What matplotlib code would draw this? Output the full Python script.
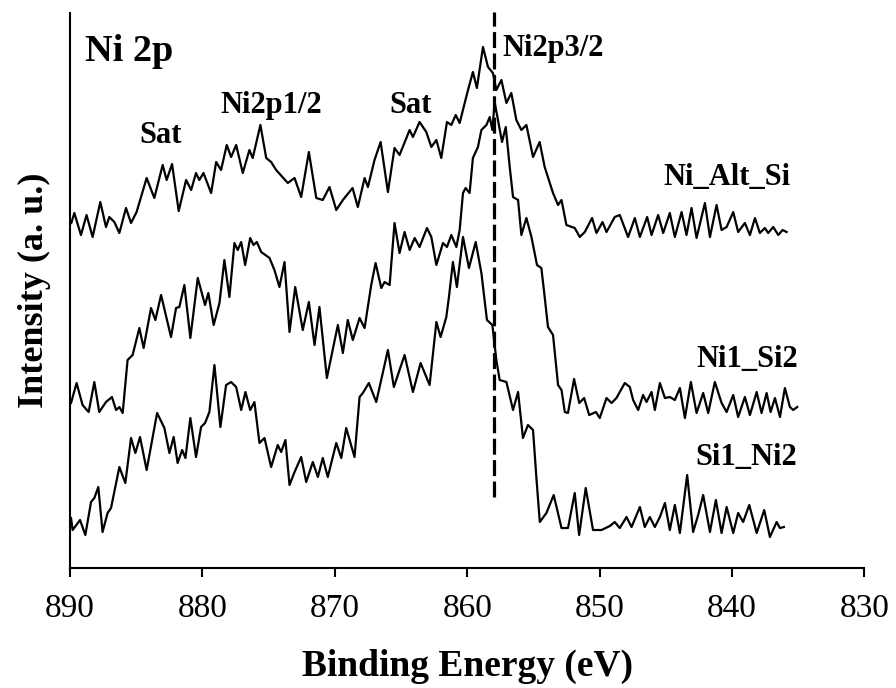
""" Ni 2p XPS spectra of the three Ni/Si films """
import matplotlib
matplotlib.use('Agg')
import matplotlib.pyplot as plt
import numpy as np

plt.rcParams['font.family'] = ['Liberation Serif', 'DejaVu Serif']

# Ni_Alt_Si (top trace) - binding energy (eV) and intensity (a.u.)
alt_energy = [889.9, 889.67, 889.17, 888.75, 888.29, 887.71, 887.28, 887.03, 886.65, 886.27,
              885.77, 885.39, 884.97, 884.21, 883.63, 883.00, 882.70, 882.29, 881.79, 881.23,
              880.85, 880.48, 880.23, 879.92, 879.34, 878.96, 878.59, 878.16, 877.83, 877.45,
              876.95, 876.45, 876.20, 875.62, 875.18, 874.81, 874.43, 873.55, 873.04, 872.54,
              871.96, 871.40, 870.91, 870.40, 869.89, 869.39, 868.66, 868.26, 867.75, 867.50,
              867.00, 866.54, 865.99, 865.49, 865.11, 864.35, 864.10, 863.60, 863.09, 862.71,
              862.33, 861.96, 861.53, 861.20, 860.87, 860.57, 860.19, 859.94, 859.57, 859.27,
              858.81, 858.43, 858.06, 857.80, 857.42, 857.04, 856.67, 856.29, 855.91, 855.53,
              855.03, 854.53, 854.15, 853.52, 853.14, 852.88, 852.51, 851.88, 851.50, 851.12,
              850.57, 850.24, 849.78, 849.48, 848.86, 848.48, 847.85, 847.34, 846.96, 846.41,
              846.08, 845.58, 845.20, 844.70, 844.32, 843.81, 843.44, 843.06, 842.68, 842.05,
              841.67, 841.17, 840.79, 840.41, 839.91, 839.54, 839.03, 838.65, 838.27, 837.90,
              837.52, 837.27, 836.89, 836.51, 836.18, 835.88]
alt_int = [345, 355, 333, 353, 331, 366, 341, 351, 346, 335,
           360, 345, 356, 390, 370, 403, 388, 404, 357, 388,
           378, 395, 388, 395, 375, 406, 398, 423, 411, 423,
           395, 418, 410, 443, 410, 406, 398, 385, 390, 371,
           416, 370, 368, 381, 358, 368, 380, 361, 390, 381,
           408, 426, 376, 420, 413, 438, 431, 446, 436, 421,
           428, 410, 446, 443, 453, 445, 465, 478, 496, 480,
           521, 501, 495, 478, 488, 465, 475, 448, 438, 443,
           411, 426, 401, 375, 363, 368, 343, 340, 331, 336,
           350, 335, 346, 336, 351, 353, 331, 350, 331, 351,
           333, 353, 335, 355, 331, 356, 333, 360, 330, 365,
           331, 363, 338, 341, 356, 336, 345, 333, 350, 335,
           340, 335, 341, 333, 338, 336]

# Ni1_Si2 (middle trace)
ni1_energy = [889.92, 889.50, 889.05, 888.59, 888.16, 887.79, 887.28, 886.83, 886.52, 886.27,
              886.02, 885.65, 885.27, 884.76, 884.44, 883.88, 883.55, 883.12, 882.37, 881.99,
              881.74, 881.36, 880.91, 880.35, 879.80, 879.55, 879.15, 878.71, 878.34, 877.96,
              877.58, 877.33, 877.07, 876.77, 876.39, 876.14, 875.89, 875.56, 874.93, 874.56,
              874.18, 873.80, 873.42, 872.99, 872.42, 871.96, 871.53, 871.16, 870.60, 869.77,
              869.39, 869.02, 868.64, 868.13, 867.75, 867.25, 866.92, 866.49, 866.24, 865.86,
              865.49, 865.11, 864.73, 864.35, 863.97, 863.60, 863.04, 862.71, 862.33, 861.83,
              861.53, 861.20, 860.82, 860.57, 860.32, 860.12, 859.82, 859.57, 859.19, 858.93,
              858.55, 858.30, 858.10, 857.93, 857.68, 857.37, 857.09, 856.79, 856.54, 856.16,
              855.91, 855.53, 855.15, 854.73, 854.40, 854.15, 853.90, 853.52, 853.14, 852.88,
              852.63, 852.39, 851.93, 851.54, 851.17, 850.79, 850.28, 849.99, 849.48, 849.10,
              848.73, 848.10, 847.72, 847.47, 847.09, 846.72, 846.46, 846.08, 845.83, 845.45,
              845.07, 844.70, 844.32, 843.94, 843.56, 843.11, 842.68, 842.18, 841.80, 841.30,
              840.79, 840.41, 839.91, 839.54, 839.03, 838.65, 838.14, 837.77, 837.39, 837.09,
              836.76, 836.38, 836.01, 835.63, 835.38, 835.08]
ni1_int = [165, 185, 163, 156, 186, 156, 166, 171, 158, 161,
           155, 208, 213, 240, 220, 260, 248, 273, 231, 260,
           261, 283, 230, 290, 263, 275, 243, 265, 308, 271,
           325, 318, 326, 303, 330, 323, 326, 316, 310, 298,
           281, 306, 236, 281, 238, 266, 223, 261, 190, 243,
           215, 248, 228, 250, 240, 283, 305, 280, 286, 283,
           345, 315, 336, 318, 330, 321, 340, 331, 303, 325,
           321, 333, 321, 338, 375, 380, 375, 410, 421, 438,
           443, 451, 438, 466, 448, 426, 441, 401, 371, 368,
           333, 350, 331, 303, 300, 271, 241, 233, 183, 178,
           156, 155, 189, 165, 170, 153, 156, 150, 170, 165,
           170, 185, 181, 168, 158, 173, 166, 176, 158, 185,
           170, 171, 168, 180, 150, 186, 155, 175, 155, 186,
           165, 156, 173, 151, 171, 153, 176, 155, 175, 156,
           170, 151, 180, 161, 158, 161]

# Si1_Ni2 (bottom trace)
si1_energy = [889.92, 889.80, 889.24, 888.84, 888.41, 888.16, 887.86, 887.54, 887.16, 886.90,
              886.27, 885.82, 885.39, 885.06, 884.71, 884.21, 883.42, 882.87, 882.49, 882.17,
              881.87, 881.53, 881.28, 880.91, 880.48, 880.10, 879.80, 879.47, 879.09, 878.64,
              878.21, 877.83, 877.45, 877.07, 876.75, 876.39, 876.07, 875.69, 875.31, 874.81,
              874.31, 874.05, 873.73, 873.42, 873.04, 872.54, 872.16, 871.66, 871.28, 870.91,
              870.53, 869.89, 869.51, 869.14, 868.51, 868.13, 867.88, 867.43, 866.87, 865.99,
              865.54, 864.73, 864.10, 863.52, 862.84, 862.33, 862.01, 861.58, 861.38, 861.08,
              860.78, 860.32, 859.87, 859.36, 858.93, 858.51, 858.10, 857.80, 857.55, 857.04,
              856.54, 856.16, 855.79, 855.41, 855.03, 854.78, 854.52, 854.02, 853.47, 852.88,
              852.39, 851.88, 851.55, 851.05, 850.50, 849.86, 849.23, 848.86, 848.48, 847.97,
              847.59, 846.96, 846.59, 846.21, 845.83, 845.45, 845.07, 844.70, 844.32, 843.94,
              843.39, 842.94, 842.56, 842.18, 841.67, 841.22, 840.79, 840.41, 839.91, 839.54,
              839.16, 838.70, 838.14, 837.57, 837.14, 836.63, 836.38, 836.08]
si1_int = [50, 38, 48, 33, 66, 70, 81, 36, 55, 60,
           101, 85, 130, 115, 131, 98, 155, 140, 115, 131,
           105, 118, 110, 150, 111, 141, 145, 156, 203, 141,
           183, 186, 181, 158, 176, 158, 166, 125, 130, 101,
           123, 116, 128, 83, 96, 111, 86, 106, 91, 110,
           91, 125, 110, 140, 111, 171, 175, 185, 166, 218,
           181, 213, 176, 205, 183, 246, 231, 251, 271, 306,
           281, 331, 300, 326, 295, 248, 243, 208, 188, 186,
           158, 176, 130, 143, 138, 91, 46, 55, 73, 40,
           40, 75, 33, 80, 38, 38, 42, 46, 40, 51,
           41, 61, 41, 51, 41, 51, 65, 38, 63, 35,
           93, 36, 53, 73, 36, 68, 35, 61, 35, 55,
           46, 63, 35, 58, 31, 46, 40, 41]

ref_energy = 858.0   # Ni2p3/2 reference position

fig = plt.figure(figsize=(8.96, 6.88), dpi=100, facecolor='white')
ax = fig.add_axes([0.0781, 0.1744, 0.8867, 0.8067])

for e, i in ((alt_energy, alt_int), (ni1_energy, ni1_int), (si1_energy, si1_int)):
    ax.plot(e, i, color='black', lw=1.6, solid_joinstyle='round')

ax.plot([ref_energy, ref_energy], [71, 556], color='black', lw=2.3,
        linestyle=(0, (5, 1.7)), clip_on=False)

ax.set_xlim(890, 830)
ax.set_ylim(0, 555)
ax.set_xticks([890, 880, 870, 860, 850, 840, 830])
ax.set_yticks([])
ax.spines['top'].set_visible(False)
ax.spines['right'].set_visible(False)
ax.spines['left'].set_linewidth(1.5)
ax.spines['bottom'].set_linewidth(1.5)
ax.tick_params(axis='x', direction='out', length=6.5, width=1.5, pad=12, labelsize=24)

ax.set_xlabel('Binding Energy (eV)', fontsize=27, fontweight='bold', labelpad=18)
ax.set_ylabel('Intensity (a. u.)', fontsize=26, fontweight='bold', labelpad=14)

lbl = dict(fontsize=22, fontweight='bold', va='baseline')
ax.text(888.84, 507, 'Ni 2p', fontsize=27.5, fontweight='bold', ha='left', va='baseline')
ax.text(883.14, 425, 'Sat', ha='center', **lbl)
ax.text(874.82, 455, 'Ni2p1/2', ha='center', **lbl)
ax.text(864.24, 455, 'Sat', ha='center', **lbl)
ax.text(857.32, 512, 'Ni2p3/2', ha='left', **lbl)
ax.text(835.6, 383, 'Ni_Alt_Si', ha='right', **lbl)
ax.text(835.0, 201, 'Ni1_Si2', ha='right', **lbl)
ax.text(835.1, 103, 'Si1_Ni2', ha='right', **lbl)

fig.savefig('out.png', dpi=100, facecolor='white')
plt.close(fig)
